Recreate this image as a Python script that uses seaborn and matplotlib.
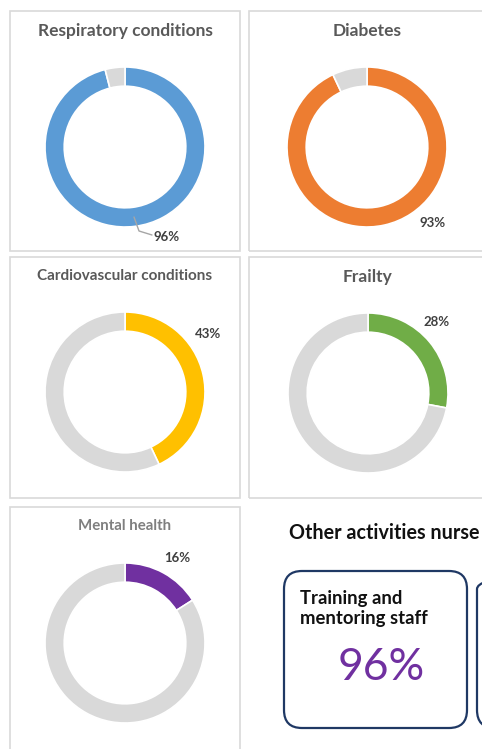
import matplotlib
matplotlib.use("Agg")
import matplotlib.pyplot as plt
from matplotlib.patches import Rectangle, FancyBboxPatch
import seaborn as sns

# Share of practices where nurses cover each condition (%)
conditions = ["Respiratory conditions", "Diabetes", "Cardiovascular conditions", "Frailty", "Mental health"]
shares = [96, 93, 43, 28, 16]
ring_colors = ["#5B9BD5", "#ED7D31", "#FFC000", "#70AD47", "#7030A0"]

# Other activities
activity_title = "Other activities nurse"
activity_labels = ["Training and\nmentoring staff"]
activity_shares = [96]

sns.set_theme(style="white")
plt.rcParams["font.family"] = ["Lato", "DejaVu Sans"]

W, H = 482, 749
fig = plt.figure(figsize=(W / 100, H / 100), dpi=100)
ax = fig.add_axes([0, 0, 1, 1])


def fy(y):
    # image pixel row -> data y
    return H - y


# panel frames (x, top, width, height) and donut centres, in pixels
panels = [(10, 11, 230, 240), (249, 11, 260, 240), (10, 257, 230, 241),
          (249, 257, 260, 241), (10, 507, 230, 260)]
centres = [(125, 147), (367, 147), (125, 392), (368, 393), (125, 643)]
title_pos = [(125, 31, 12.5, "#595959"), (367, 31, 12.5, "#595959"),
             (125, 276, 11, "#595959"), (367, 277, 12.5, "#595959"),
             (125, 526, 10.8, "#7F7F7F")]
label_pos = [(167, 237), (433, 223), (208, 334), (437, 322), (177, 558)]
radius = 80

for i, name in enumerate(conditions):
    px, py, pw, ph = panels[i]
    ax.add_patch(Rectangle((px, fy(py + ph)), pw, ph, fill=False,
                           edgecolor="#D9D9D9", lw=1.2))
    cx, cy = centres[i]
    ax.pie([shares[i], 100 - shares[i]], colors=[ring_colors[i], "#D9D9D9"],
           center=(cx, fy(cy)), radius=radius, startangle=90, counterclock=False,
           wedgeprops=dict(width=radius * 0.24, edgecolor="white", linewidth=1.2))
    tx, ty, ts, tc = title_pos[i]
    ax.text(tx, fy(ty), name, ha="center", va="center", fontsize=ts,
            fontweight="bold", color=tc)
    lx, ly = label_pos[i]
    ax.text(lx, fy(ly), f"{shares[i]}%", ha="center", va="center",
            fontsize=9.5, fontweight="bold", color="#404040")

# leader line for the first donut label
ax.plot([134, 139, 152], [fy(217), fy(231), fy(235)], color="#A6A6A6", lw=1)

# other activities
ax.text(289, fy(533), activity_title, ha="left", va="center", fontsize=14.2,
        fontweight="bold", color="#111111")
box_x = [284, 477]
for j, bx in enumerate(box_x):
    ax.add_patch(FancyBboxPatch((bx, fy(728)), 183, 157,
                                boxstyle="round,pad=0,rounding_size=18",
                                fill=False, edgecolor="#1F3864", lw=1.6))
for j, (lab, val) in enumerate(zip(activity_labels, activity_shares)):
    bx = box_x[j]
    ax.text(bx + 16, fy(590), lab, ha="left", va="top", fontsize=13.3,
            fontweight="bold", color="#111111", linespacing=1.2)
    ax.text(bx + 97, fy(667), f"{val}%", ha="center", va="center",
            fontsize=32, color="#7030A0")

ax.set_xlim(0, W)
ax.set_ylim(0, H)
ax.set_aspect("equal")
ax.axis("off")

fig.savefig("out.png", dpi=100, facecolor="white")
